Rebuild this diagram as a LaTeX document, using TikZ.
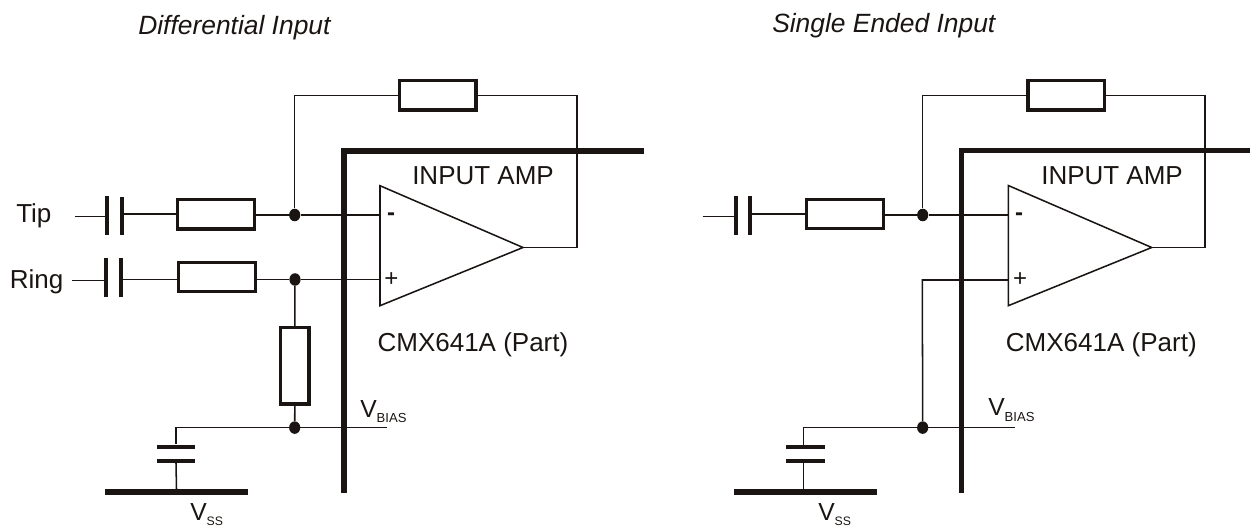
\documentclass[tikz,border=0pt]{standalone}
\usepackage{fontspec}
\setmainfont{Liberation Sans}
\definecolor{ink}{HTML}{1A1512}
\newcommand{\sz}[1]{\fontsize{#1}{#1}\selectfont}
\newcommand{\VB}{V{\sz{9.8pt}\raisebox{-3.9pt}{BIAS}}}
\newcommand{\VS}{V{\sz{9.2pt}\raisebox{-3.4pt}{SS}}}
\tikzset{
  wire/.style={draw=ink,line width=1.15pt},
  heavy/.style={draw=ink,line width=3.8pt,line cap=butt,miter limit=10},
  amp/.style={draw=ink,line width=1.15pt,line join=miter},
  lbl/.style={anchor=base west,inner sep=0pt,text=ink,font=\sz{19.5pt}},
  ital/.style={lbl,font=\sz{19.8pt}\itshape},
  volt/.style={lbl,font=\sz{18.5pt}},
  sign/.style={inner sep=0pt,text=ink,font=\sz{18pt}},
  resh/.style={draw=ink,fill=white,line width=2.6pt,rectangle,inner sep=0pt,minimum width=57.4pt,minimum height=22.1pt},
  resv/.style={draw=ink,fill=white,line width=2.6pt,rectangle,inner sep=0pt,minimum width=21.4pt,minimum height=57.4pt},
  vplate/.style={fill=ink,rectangle,inner sep=0pt,minimum width=2.7pt,minimum height=29.2pt},
  hplate/.style={fill=ink,rectangle,inner sep=0pt,minimum width=29.2pt,minimum height=3pt},
  gnd/.style={fill=ink,rectangle,inner sep=0pt,minimum width=107pt,minimum height=4.4pt},
  junction/.style={fill=ink,ellipse,inner sep=0pt,minimum width=8.4pt,minimum height=9.4pt},
}
\usetikzlibrary{shapes.geometric}
\begin{document}
\begin{tikzpicture}[x=0.75pt,y=-0.75pt]
\useasboundingbox (0,0) rectangle (1250,527);
% ---------- left circuit
\coordinate (LtipIn) at (75,216.7);
\coordinate (LringIn) at (72,280.3);
\coordinate (LampT) at (380,185.7);
\coordinate (LampB) at (380,305.7);
\coordinate (LampO) at (523,247.5);
\coordinate (Lfb) at (577,95.5);
\coordinate (LbiasEnd) at (386.7,427.6);
\coordinate (LbiasL) at (176,427.6);
\coordinate (LtopR) at (644,151);
\coordinate (Lcorner) at (344,151);
\coordinate (LbarEnd) at (344,493);
\node[vplate] (LcA1) at (106.8,215.5) {};
\node[vplate] (LcA2) at (121.8,216) {};
\node[vplate] (LcB1) at (106,277.2) {};
\node[vplate] (LcB2) at (121,277.2) {};
\node[resh] (LrA) at (216,214.2) {};
\node[resh] (LrB) at (217,277) {};
\node[resv] (LrC) at (294.8,365.8) {};
\node[resh] (LrD) at (437.5,95.5) {};
\node[hplate] (LcC1) at (176,446.7) {};
\node[hplate] (LcC2) at (176,460.7) {};
\node[gnd] (Lgnd) at (176.5,492) {};
\node[junction] (LjTip) at (294.7,215) {};
\node[junction] (LjRing) at (295,279.5) {};
\node[junction] (LjBias) at (294.7,427.6) {};
\draw[wire] (LtipIn) -- (LtipIn -| LcA1.west);
\draw[wire] (LcA2.east |- LrA.west) -- (LrA.west);
\draw[wire] (LringIn) -- (LringIn -| LcB1.west);
\draw[wire] (LcB2.east |- LjRing) -- (LrB.west |- LjRing);
\draw[wire] (LrA.east |- LjTip) -- (LjTip) -- (LjTip -| LampT);
\draw[wire] (LrB.east |- LjRing) -- (LjRing) -- (LjRing -| LampT);
\draw[wire] (LjTip) |- (LrD.west);
\draw[wire] (LrD.east) -- (Lfb) |- (LampO);
\draw[wire] (LjRing) -- (LrC.north);
\draw[wire] (LrC.south) -- (LjBias);
\draw[wire] (LcC1.north -| LbiasL) -- (LbiasL) -- (LbiasEnd);
\draw[wire] (LcC2.south) -- (Lgnd.north);
\draw[heavy] (LtopR) -- (Lcorner) -- (LbarEnd);
\draw[amp,fill=white] (LampT) -- (LampO) -- (LampB) -- cycle;
\node[sign,font=\sz{18pt}\bfseries] (Lminus) at (391,216.5) {-};
\node[sign] (Lplus) at (391.5,280) {+};
\node[lbl] (Ltip) at (16,223) {Tip};
\node[lbl] (Lring) at (9.5,289) {Ring};
\node[lbl] (Lamp) at (412,185) {INPUT AMP};
\node[lbl] (Lpart) at (377.3,351.7) {CMX641A (Part)};
\node[volt] (Lvb) at (360,417) {\VB};
\node[volt] (Lvs) at (190,520.7) {\VS};
\node[ital] (Ltitle) at (138,34.5) {Differential Input};
% ---------- right circuit
\coordinate (RtipIn) at (702.7,216.7);
\coordinate (RampT) at (1008.3,185.5);
\coordinate (RampB) at (1008.3,305.7);
\coordinate (RampO) at (1151.7,247.5);
\coordinate (Rfb) at (1205,95.5);
\coordinate (RbiasEnd) at (1015,427.6);
\coordinate (RbiasL) at (803.7,427.6);
\coordinate (RtopR) at (1250,150.5);
\coordinate (Rcorner) at (961.8,150.5);
\coordinate (RbarEnd) at (961.8,493);
\coordinate (Rplus) at (922.3,280);
\node[vplate] (RcA1) at (736,215.5) {};
\node[vplate] (RcA2) at (750,215.5) {};
\node[resh] (RrA) at (845,214) {};
\node[resh] (RrD) at (1066.2,95.5) {};
\node[hplate] (RcC1) at (805.8,447) {};
\node[hplate] (RcC2) at (805.8,461) {};
\node[gnd] (Rgnd) at (805.5,492) {};
\node[junction] (RjTip) at (922.7,215) {};
\node[junction] (RjBias) at (922.7,427.6) {};
\draw[wire] (RtipIn) -- (RtipIn -| RcA1.west);
\draw[wire] (RcA2.east |- RrA.west) -- (RrA.west);
\draw[wire] (RrA.east |- RjTip) -- (RjTip) -- (RjTip -| RampT);
\draw[wire] (RjTip) |- (RrD.west);
\draw[wire] (RrD.east) -- (Rfb) |- (RampO);
\draw[wire] (RjBias) -- (Rplus) -- (Rplus -| RampT);
\draw[wire] (RcC1.north -| RbiasL) -- (RbiasL) -- (RbiasEnd);
\draw[wire] (RcC2.south -| RbiasL) -- (Rgnd.north -| RbiasL);
\draw[heavy] (RtopR) -- (Rcorner) -- (RbarEnd);
\draw[amp,fill=white] (RampT) -- (RampO) -- (RampB) -- cycle;
\node[sign,font=\sz{18pt}\bfseries] (Rminus) at (1019,216.5) {-};
\node[sign] (Rplusl) at (1020,280) {+};
\node[lbl] (Ramp) at (1041,185) {INPUT AMP};
\node[lbl] (Rpart) at (1005.7,351.7) {CMX641A (Part)};
\node[volt] (Rvb) at (988,416) {\VB};
\node[volt] (Rvs) at (818,520.7) {\VS};
\node[ital] (Rtitle) at (772,33) {Single Ended Input};
\end{tikzpicture}
\end{document}
